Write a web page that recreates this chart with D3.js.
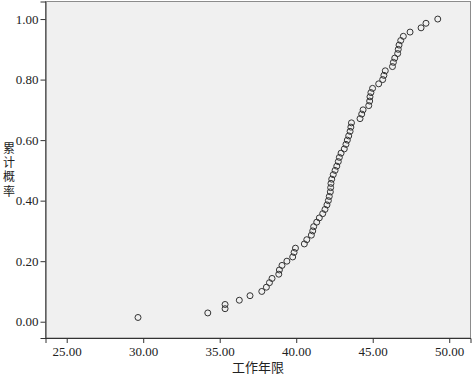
<!DOCTYPE html>
<html>
<head>
<meta charset="utf-8">
<script src="https://cdn.jsdelivr.net/npm/d3@7"></script>
<style>
  body { margin: 0; background: #fff; }
</style>
</head>
<body>
<svg id="viz" width="472" height="377"></svg>
<script>
// working years (x) and cumulative probability (y)
let years = [29.66, 34.22, 35.35, 35.35, 36.28, 36.98, 37.75, 38.05, 38.25, 38.42,
             38.86, 38.90, 39.07, 39.39, 39.77, 39.86, 39.95, 40.53, 40.69, 40.99,
             41.08, 41.14, 41.34, 41.51, 41.73, 41.88, 42.01, 42.10, 42.16, 42.23,
             42.25, 42.27, 42.32, 42.42, 42.54, 42.65, 42.75, 42.82, 42.93, 43.14,
             43.25, 43.34, 43.43, 43.52, 43.57, 43.61, 44.17, 44.28, 44.37, 44.74,
             44.80, 44.82, 44.88, 44.99, 45.39, 45.65, 45.73, 45.82, 46.29, 46.35,
             46.44, 46.63, 46.67, 46.72, 46.83, 47.00, 47.44, 48.16, 48.48, 49.25];
let cumProb = [0.014, 0.029, 0.043, 0.057, 0.071, 0.086, 0.100, 0.114, 0.129, 0.143,
               0.157, 0.171, 0.186, 0.200, 0.214, 0.229, 0.243, 0.257, 0.271, 0.286,
               0.300, 0.314, 0.329, 0.343, 0.357, 0.371, 0.386, 0.400, 0.414, 0.429,
               0.443, 0.457, 0.471, 0.486, 0.500, 0.514, 0.529, 0.543, 0.557, 0.571,
               0.586, 0.600, 0.614, 0.629, 0.643, 0.657, 0.671, 0.686, 0.700, 0.714,
               0.729, 0.743, 0.757, 0.771, 0.786, 0.800, 0.814, 0.829, 0.843, 0.857,
               0.871, 0.886, 0.900, 0.914, 0.929, 0.943, 0.957, 0.971, 0.986, 1.000];
let xTicks = [25, 30, 35, 40, 45, 50];
let yTicks = [0, 0.2, 0.4, 0.6, 0.8, 1.0];
let xTitle = "工作年限";
let yTitle = "累计概率";

let margin = {top: 1.5, right: 1.5, bottom: 39, left: 45.5};
let W = 472, H = 377;
let serif = '"Liberation Serif", "DejaVu Serif", serif';
let cjk = '"Noto Sans CJK SC", sans-serif';

let svg = d3.select('#viz');

let x = d3.scaleLinear().domain([23.614, 51.39]).range([margin.left, W - margin.right]);
let y = d3.scaleLinear().domain([-0.0538, 1.058]).range([H - margin.bottom, margin.top]);

// plot background + frame
svg.append('rect')
	.attr('x', margin.left)
	.attr('y', margin.top)
	.attr('width', W - margin.left - margin.right)
	.attr('height', H - margin.top - margin.bottom)
	.attr('fill', '#f0f0f0')
	.attr('stroke', '#8c8c8c')
	.attr('stroke-width', 1);

let xAxis = svg.append('g')
	.attr('transform', `translate(0,${H - margin.bottom})`)
	.call(d3.axisBottom(x).tickValues(xTicks).tickFormat(d3.format('.2f')).tickSize(5).tickPadding(4));

let yAxis = svg.append('g')
	.attr('transform', `translate(${margin.left},0)`)
	.call(d3.axisLeft(y).tickValues(yTicks).tickFormat(d3.format('.2f')).tickSize(5).tickPadding(2));

[xAxis, yAxis].forEach(g => {
	g.attr('font-family', serif).attr('font-size', 13);
	g.select('.domain').attr('stroke', '#333');
	g.selectAll('.tick line').attr('stroke', '#333');
	g.selectAll('.tick text')
		.style('font-family', serif)
		.style('font-size', '13px')
		.attr('fill', '#222');
});

// points
svg.append('g')
	.selectAll('circle')
	.data(years.map((v, i) => ({x: v, p: cumProb[i]})))
	.enter()
	.append('circle')
	.attr('cx', d => x(d.x))
	.attr('cy', d => y(d.p))
	.attr('r', 3)
	.attr('fill', 'none')
	.attr('stroke', '#333')
	.attr('stroke-width', 1);

// axis titles
svg.append('text')
	.attr('x', (margin.left + W - margin.right) / 2)
	.attr('y', 372)
	.attr('text-anchor', 'middle')
	.style('font-family', cjk)
	.style('font-size', '13px')
	.attr('fill', '#222')
	.text(xTitle);

svg.append('text')
	.attr('x', 9)
	.attr('y', (margin.top + H - margin.bottom) / 2 + 1)
	.attr('text-anchor', 'middle')
	.style('font-family', cjk)
	.style('font-size', '12px')
	.style('writing-mode', 'vertical-rl')
	.style('text-orientation', 'upright')
	.style('letter-spacing', '2.2px')
	.attr('fill', '#222')
	.text(yTitle);
</script>
</body>
</html>
